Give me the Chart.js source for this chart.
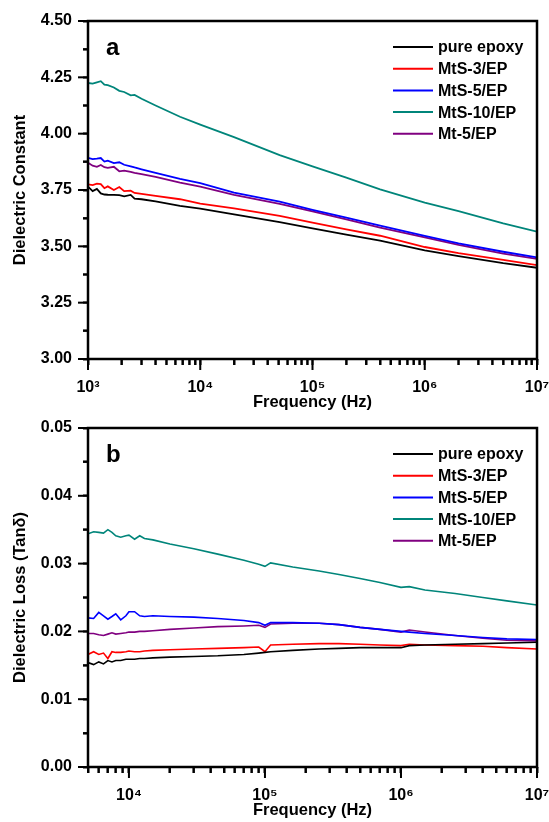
<!DOCTYPE html>
<html>
<head>
<meta charset="utf-8">
<script src="https://cdn.jsdelivr.net/npm/chart.js@4.4.0/dist/chart.umd.min.js"></script>
<style>
  body { margin: 0; background: #fff; overflow: hidden; }
  #wrapA { position: absolute; left: 0; top: 0; width: 549px; height: 412px; }
  #wrapB { position: absolute; left: 0; top: 410px; width: 549px; height: 412px; }
</style>
</head>
<body>
<div id="wrapA"><canvas id="chartA" width="549" height="412"></canvas></div>
<div id="wrapB"><canvas id="chartB" width="549" height="412"></canvas></div>
<script>
var seriesNames = ["pure epoxy", "MtS-3/EP", "MtS-5/EP", "MtS-10/EP", "Mt-5/EP"];
var seriesColors = ["#000000", "#ff0000", "#0000ff", "#00857a", "#800080"];
var decadeLabels = { 1000: "10³", 10000: "10⁴", 100000: "10⁵", 1000000: "10⁶", 10000000: "10⁷" };
var logTicksA = [1000, 2000, 3000, 4000, 5000, 6000, 7000, 8000, 9000,
  10000, 20000, 30000, 40000, 50000, 60000, 70000, 80000, 90000,
  100000, 200000, 300000, 400000, 500000, 600000, 700000, 800000, 900000,
  1000000, 2000000, 3000000, 4000000, 5000000, 6000000, 7000000, 8000000, 9000000, 10000000];
var logTicksB = logTicksA.filter(function (v) { return v >= 5000; });
var yTicksA = [3.0, 3.125, 3.25, 3.375, 3.5, 3.625, 3.75, 3.875, 4.0, 4.125, 4.25, 4.375, 4.5];
var yTicksB = [0, 0.005, 0.01, 0.015, 0.02, 0.025, 0.03, 0.035, 0.04, 0.045, 0.05];

// panel a : dielectric constant
var freqA = [1000, 1100, 1200, 1300, 1400, 1500, 1700, 1900, 2100, 2400, 2600, 3000, 4000, 6600,
  10000, 20000, 51000, 100000, 200000, 400000, 1000000, 2000000, 5000000, 10000000];
var epoxyA = [3.765, 3.745, 3.755, 3.735, 3.730, 3.729, 3.728, 3.727, 3.722, 3.728, 3.712, 3.709, 3.700, 3.680,
  3.667, 3.642, 3.607, 3.580, 3.552, 3.525, 3.482, 3.457, 3.425, 3.405];
var mts3A = [3.775, 3.772, 3.778, 3.776, 3.758, 3.766, 3.750, 3.763, 3.745, 3.747, 3.737, 3.733, 3.724, 3.709,
  3.690, 3.668, 3.635, 3.605, 3.575, 3.547, 3.497, 3.470, 3.440, 3.417];
var mts5A = [3.893, 3.887, 3.889, 3.892, 3.876, 3.880, 3.869, 3.873, 3.862, 3.855, 3.850, 3.842, 3.826, 3.799,
  3.780, 3.738, 3.698, 3.662, 3.627, 3.592, 3.546, 3.513, 3.476, 3.451];
var mts10A = [4.225, 4.222, 4.228, 4.233, 4.218, 4.215, 4.205, 4.190, 4.185, 4.170, 4.172, 4.155, 4.125, 4.075,
  4.040, 3.985, 3.905, 3.855, 3.805, 3.753, 3.694, 3.656, 3.602, 3.565];
var mt5A = [3.871, 3.858, 3.853, 3.861, 3.851, 3.848, 3.853, 3.833, 3.836, 3.830, 3.826, 3.820, 3.808, 3.783,
  3.765, 3.728, 3.688, 3.655, 3.620, 3.583, 3.540, 3.506, 3.468, 3.444];

// panel b : dielectric loss
var freqB = [5000, 5500, 6000, 6500, 7000, 7500, 8000, 8700, 9500, 10000, 11000, 12000, 13000, 15000, 20000,
  30000, 45000, 70000, 90000, 100000, 110000, 160000, 250000, 350000, 500000, 700000, 1000000, 1150000,
  1500000, 2500000, 4000000, 6000000, 10000000];
var epoxyB = [0.0154, 0.0151, 0.0155, 0.0152, 0.0157, 0.0155, 0.0157, 0.0157, 0.0159, 0.0159, 0.0159, 0.0160,
  0.0160, 0.0161, 0.0162, 0.0163, 0.0164, 0.0166, 0.0168, 0.0169, 0.0170, 0.0172, 0.0174, 0.0175, 0.0176,
  0.0176, 0.0176, 0.0179, 0.0180, 0.0181, 0.0182, 0.0183, 0.0184];
var mts3B = [0.0166, 0.0170, 0.0166, 0.0168, 0.0160, 0.0170, 0.0169, 0.0169, 0.0170, 0.0171, 0.0170, 0.0170,
  0.0171, 0.0172, 0.0173, 0.0174, 0.0175, 0.0176, 0.0177, 0.0170, 0.0180, 0.0181, 0.0182, 0.0182, 0.0181,
  0.0180, 0.0179, 0.0181, 0.0180, 0.0179, 0.0178, 0.0176, 0.0174];
var mts5B = [0.0220, 0.0219, 0.0228, 0.0223, 0.0218, 0.0222, 0.0226, 0.0217, 0.0223, 0.0229, 0.0229, 0.0223,
  0.0222, 0.0223, 0.0222, 0.0221, 0.0219, 0.0216, 0.0213, 0.0209, 0.0213, 0.0213, 0.0212, 0.0210, 0.0206,
  0.0203, 0.0200, 0.0199, 0.0197, 0.0194, 0.0191, 0.0189, 0.0188];
var mts10B = [0.0344, 0.0347, 0.0346, 0.0345, 0.0350, 0.0346, 0.0341, 0.0339, 0.0341, 0.0342, 0.0336, 0.0341,
  0.0337, 0.0335, 0.0329, 0.0322, 0.0314, 0.0305, 0.0299, 0.0296, 0.0301, 0.0295, 0.0289, 0.0284, 0.0278,
  0.0272, 0.0265, 0.0266, 0.0261, 0.0256, 0.0250, 0.0245, 0.0239];
var mt5B = [0.0197, 0.0197, 0.0195, 0.0194, 0.0196, 0.0198, 0.0196, 0.0197, 0.0198, 0.0199, 0.0199, 0.0200,
  0.0200, 0.0201, 0.0203, 0.0205, 0.0207, 0.0208, 0.0209, 0.0206, 0.0211, 0.0212, 0.0212, 0.0210, 0.0206,
  0.0203, 0.0199, 0.0202, 0.0199, 0.0194, 0.0190, 0.0187, 0.0186];

var fontFamily = "'Liberation Sans', Arial, sans-serif";

function makeDatasets(freq, list, width) {
  return list.map(function (vals, i) {
    return {
      label: seriesNames[i],
      data: freq.map(function (f, j) { return { x: f, y: vals[j] }; }),
      borderColor: seriesColors[i],
      backgroundColor: seriesColors[i],
      borderWidth: width,
      pointRadius: 0,
      tension: 0,
      fill: false
    };
  });
}

// tick marks as filled bars, box, legend and panel letter
var framePlugin = {
  id: "frame",
  afterDraw: function (chart, args, opts) {
    var ctx = chart.ctx, area = chart.chartArea;
    var xs = chart.scales.x, ys = chart.scales.y;
    ctx.save();
    ctx.fillStyle = "#000";
    xs.ticks.forEach(function (t) {
      var px = xs.getPixelForValue(t.value);
      var len = decadeLabels[t.value] ? 11 : 6;
      ctx.fillRect(px - 1, area.bottom, 2, len);
    });
    ys.ticks.forEach(function (t) {
      var py = ys.getPixelForValue(t.value);
      var len = t.label ? 10 : 5;
      ctx.fillRect(area.left - len, py - 1, len, 2);
    });
    ctx.strokeStyle = "#000";
    ctx.lineWidth = 2.5;
    ctx.strokeRect(area.left, area.top, area.right - area.left, area.bottom - area.top);

    // panel letter
    ctx.font = "bold 24px " + fontFamily;
    ctx.textBaseline = "middle";
    ctx.textAlign = "left";
    ctx.fillText(opts.letter, area.left + 18, area.top + 27);

    // legend
    ctx.font = "bold 16px " + fontFamily;
    chart.data.datasets.forEach(function (ds, i) {
      var y = area.top + 26 + i * 21.7;
      ctx.strokeStyle = ds.borderColor;
      ctx.lineWidth = 2;
      ctx.beginPath();
      ctx.moveTo(area.right - 144, y);
      ctx.lineTo(area.right - 104, y);
      ctx.stroke();
      ctx.fillText(ds.label, area.right - 99, y + 1);
    });
    ctx.restore();
  }
};

function makeOptions(cfg) {
  return {
    responsive: false,
    animation: false,
    devicePixelRatio: 1,
    layout: { padding: { top: cfg.top, left: 0, right: 0, bottom: 0 } },
    plugins: { legend: { display: false }, tooltip: { enabled: false }, frame: { letter: cfg.letter } },
    scales: {
      x: {
        type: "logarithmic",
        min: cfg.xmin,
        max: 10000000,
        grid: { display: true, drawOnChartArea: false, drawTicks: true, tickLength: 6, tickWidth: 2, tickColor: "#000" },
        border: { display: false },
        afterBuildTicks: function (scale) {
          scale.ticks = cfg.xticks.map(function (v) { return { value: v }; });
        },
        ticks: {
          autoSkip: false,
          maxRotation: 0,
          padding: 13,
          color: "#000",
          font: { family: fontFamily, size: 16, weight: "bold" },
          callback: function (v) { return decadeLabels[v] || ""; }
        },
        title: {
          display: true,
          text: "Frequency (Hz)",
          color: "#000",
          padding: { top: 0, bottom: cfg.titlePad },
          font: { family: fontFamily, size: 16.5, weight: "bold" }
        },
        afterFit: function (scale) {
          scale.height = cfg.xHeight;
          scale.paddingRight = 12;
        }
      },
      y: {
        min: cfg.ymin,
        max: cfg.ymax,
        grid: { display: true, drawOnChartArea: false, drawTicks: true, tickLength: 5, tickWidth: 2, tickColor: "#000" },
        border: { display: false },
        afterBuildTicks: function (scale) {
          scale.ticks = cfg.yticks.map(function (v) { return { value: v }; });
        },
        ticks: {
          autoSkip: false,
          padding: 11,
          color: "#000",
          font: { family: fontFamily, size: 16, weight: "bold" },
          callback: function (v) {
            var k = v / cfg.step;
            return Math.abs(k - Math.round(k)) < 1e-6 ? v.toFixed(2) : "";
          }
        },
        title: {
          display: true,
          text: cfg.ytitle,
          color: "#000",
          padding: { top: 11, bottom: 0 },
          font: { family: fontFamily, size: 16.5, weight: "bold" }
        },
        afterFit: function (scale) {
          scale.width = 88;
          scale.paddingTop = 0;
          scale.paddingBottom = 0;
        }
      }
    }
  };
}

new Chart(document.getElementById("chartB"), {
  type: "line",
  data: { datasets: makeDatasets(freqB, [epoxyB, mts3B, mts5B, mts10B, mt5B], 1.6) },
  options: makeOptions({ top: 18, letter: "b", xmin: 5000, ymin: 0, ymax: 0.05, step: 0.01,
    xticks: logTicksB, yticks: yTicksB, xHeight: 55, titlePad: 1.5, ytitle: "Dielectric Loss (Tanδ)" }),
  plugins: [framePlugin]
});

new Chart(document.getElementById("chartA"), {
  type: "line",
  data: { datasets: makeDatasets(freqA, [epoxyA, mts3A, mts5A, mts10A, mt5A], 1.8) },
  options: makeOptions({ top: 21, letter: "a", xmin: 1000, ymin: 3.0, ymax: 4.5, step: 0.25,
    xticks: logTicksA, yticks: yTicksA, xHeight: 53, titlePad: 0, ytitle: "Dielectric Constant" }),
  plugins: [framePlugin]
});
</script>
</body>
</html>
